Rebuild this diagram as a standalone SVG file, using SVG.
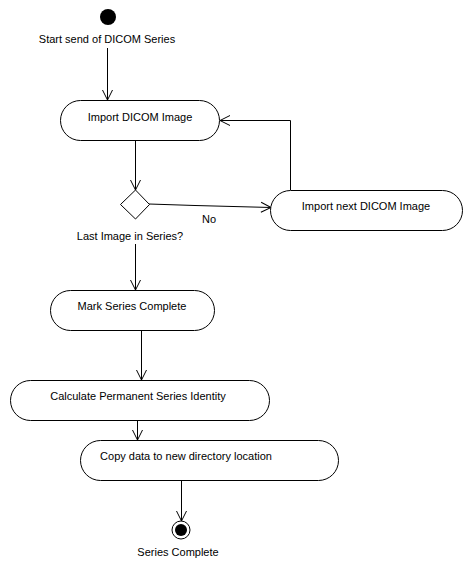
<svg xmlns="http://www.w3.org/2000/svg" width="473" height="570" viewBox="0 0 473 570">
<style>
.node{fill:#fff;stroke:#000;stroke-width:1}
.t{font-family:"Liberation Sans",Arial,sans-serif;font-size:11px;fill:#000}
.c{fill:none;stroke:#000;stroke-width:1}
</style>
<defs>
<marker id="arr" markerWidth="12" markerHeight="12" refX="10" refY="5" orient="auto" markerUnits="userSpaceOnUse" overflow="visible">
<path d="M0,0 L10,5 L0,10" fill="none" stroke="#000" stroke-width="1"/>
</marker>
</defs>
<rect width="473" height="570" fill="#fff"/>
<g id="connectors">
<line class="c" x1="107.5" y1="48" x2="107.5" y2="100" marker-end="url(#arr)"/>
<line class="c" x1="135.5" y1="140" x2="135.5" y2="190" marker-end="url(#arr)"/>
<polyline class="c" points="149,204 195,205.5 271,207.5" marker-end="url(#arr)"/>
<polyline class="c" points="290.5,190 290.5,120.5 220,120.5" marker-end="url(#arr)"/>
<line class="c" x1="135.5" y1="244" x2="135.5" y2="290" marker-end="url(#arr)"/>
<line class="c" x1="141.5" y1="330" x2="141.5" y2="380" marker-end="url(#arr)"/>
<line class="c" x1="137.5" y1="420" x2="137.5" y2="440" marker-end="url(#arr)"/>
<line class="c" x1="181.5" y1="480" x2="181.5" y2="521" marker-end="url(#arr)"/>
<text class="t" x="202" y="223">No</text>
</g>
<g id="start">
<circle cx="108" cy="17" r="8" fill="#000"/>
<text class="t" x="107" y="43" text-anchor="middle">Start send of DICOM Series</text>
</g>
<g id="import">
<rect class="node" x="60.5" y="100.5" width="159" height="40" rx="20" ry="20"/>
<text class="t" x="140" y="121" text-anchor="middle">Import DICOM Image</text>
</g>
<g id="decision">
<polygon class="node" points="135.5,190 149.5,204.5 135.5,219 120.5,204.5"/>
<text class="t" x="130" y="240" text-anchor="middle">Last Image in Series?</text>
</g>
<g id="importNext">
<rect class="node" x="270.5" y="190.5" width="192" height="40" rx="20" ry="20"/>
<text class="t" x="366" y="210" text-anchor="middle">Import next DICOM Image</text>
</g>
<g id="mark">
<rect class="node" x="50.5" y="290.5" width="164" height="40" rx="20" ry="20"/>
<text class="t" x="132" y="310" text-anchor="middle">Mark Series Complete</text>
</g>
<g id="calc">
<rect class="node" x="10.5" y="380.5" width="259" height="40" rx="20" ry="20"/>
<text class="t" x="138" y="400" text-anchor="middle">Calculate Permanent Series Identity</text>
</g>
<g id="copy">
<rect class="node" x="80.5" y="440.5" width="258" height="40" rx="20" ry="20"/>
<text class="t" x="186" y="460" text-anchor="middle">Copy data to new directory location</text>
</g>
<g id="end">
<circle cx="181" cy="530" r="9" fill="#fff" stroke="#000"/>
<circle cx="181" cy="530" r="6" fill="#000"/>
<text class="t" x="178" y="556" text-anchor="middle">Series Complete</text>
</g>
</svg>
